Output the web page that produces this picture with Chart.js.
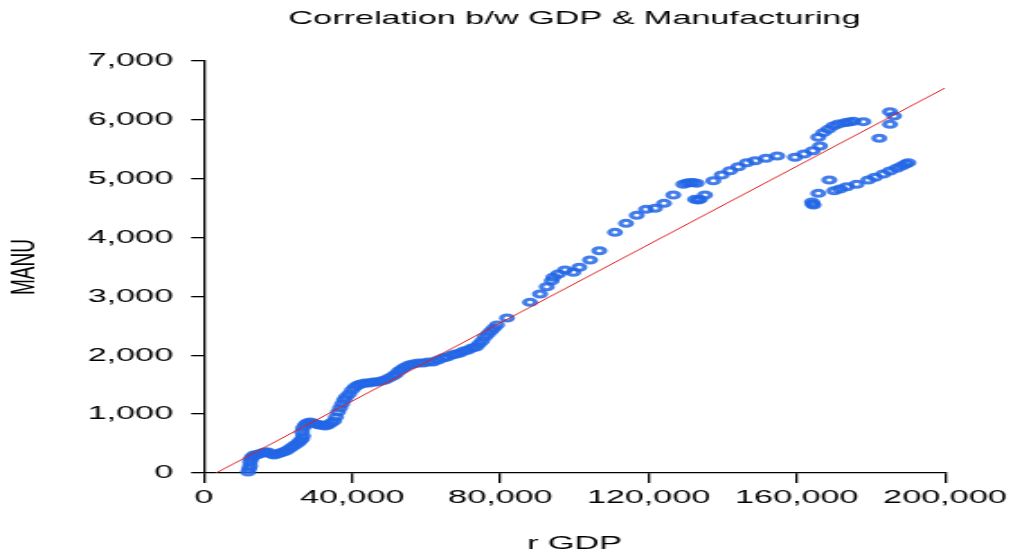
<!DOCTYPE html>
<html>
<head>
<meta charset="utf-8">
<script src="https://cdn.jsdelivr.net/npm/chart.js@4"></script>
<style>
  html, body { margin: 0; padding: 0; background: #fff; overflow: hidden; }
  /* the graph is laid out narrow and widened horizontally, like the exported EViews frame */
  #wrap { width: 563px; height: 556px; transform: scaleX(1.7993); transform-origin: 0 0; }
  canvas { display: block; }
</style>
</head>
<body>
<div id="wrap"><canvas id="chart" width="563" height="556"></canvas></div>
<script>
// real GDP (x) and manufacturing output (y), one entry per observation
const gdp = [
  11880, 12150, 12420, 12420, 12690, 12960, 13500, 14040, 14850, 15650,
  16460, 17270, 18080, 18890, 19700, 20510, 21320, 22130, 22940, 23750,
  24560, 25370, 25910, 26450, 26720, 26450, 26720, 27260, 27800, 28610,
  29420, 30230, 31040, 31850, 32660, 33470, 34280, 35090, 35630, 36170,
  36710, 37250, 37790, 38330, 39140, 39950, 40760, 41570, 42370, 43450,
  44530, 45610, 46690, 47770, 48850, 49930, 51010, 51820, 52630, 53440,
  54250, 55330, 56410, 57760, 59110, 60460, 61810, 63160, 64510, 65590,
  66940, 68020, 69090, 70170, 71250, 72330, 73410, 74220, 75030, 75840,
  76650, 77460, 78270, 79080, 81780,
  87990, 90690, 92500, 93840, 94280, 95630, 97430, 99670, 101290, 104180,
  106690, 110930, 113900, 116790, 119300, 121730, 124150, 126660, 129360, 130360,
  131170, 131980, 132980, 132520, 133330, 133870, 135220, 137460, 139730, 141970,
  144210, 146480, 148720, 151680, 154730, 159510, 161940, 164290, 166260, 165800,
  167150, 168500, 169850, 171200, 173010, 174090, 175250, 177950, 182260, 185150,
  185150, 186230,
  164100, 164290, 164500, 165800, 168770, 170120, 171660, 173470, 176160, 179300,
  181100, 183340, 185150, 186960, 188310, 189390, 190090
];
const manu = [
  17, 68, 119, 187, 238, 272, 306, 306, 323, 340,
  357, 357, 323, 306, 323, 340, 357, 374, 408, 442,
  476, 510, 544, 578, 629, 697, 765, 816, 850, 866,
  850, 833, 816, 816, 799, 816, 850, 883, 951, 1036,
  1104, 1172, 1240, 1291, 1342, 1410, 1461, 1495, 1512, 1529,
  1529, 1546, 1546, 1563, 1580, 1614, 1648, 1682, 1733, 1767,
  1801, 1835, 1852, 1869, 1869, 1886, 1886, 1920, 1954, 1971,
  2005, 2022, 2039, 2073, 2090, 2124, 2141, 2192, 2243, 2311,
  2362, 2413, 2464, 2515, 2633,
  2900, 3041, 3165, 3267, 3325, 3381, 3449, 3410, 3495, 3619,
  3777, 4089, 4242, 4378, 4480, 4497, 4582, 4723, 4905, 4927,
  4932, 4936, 4922, 4650, 4638, 4650, 4723, 4966, 5063, 5136,
  5204, 5272, 5306, 5347, 5386, 5364, 5420, 5476, 5556, 5704,
  5782, 5839, 5896, 5930, 5952, 5964, 5975, 5969, 5687, 5924,
  6138, 6065,
  4604, 4570, 4553, 4752, 4978, 4796, 4825, 4864, 4905, 4978,
  5024, 5080, 5131, 5177, 5216, 5250, 5272
];

// end points of the fitted regression line
const fitGdp = [3240, 200000];
const fitManu = [0, 6541];

// axis ticks
const xTickValues = [0, 40000, 80000, 120000, 160000, 200000];
const xTickLabels = ['0', '40,000', '80,000', '120,000', '160,000', '200,000'];
const yTickValues = [0, 1000, 2000, 3000, 4000, 5000, 6000, 7000];
const yTickLabels = ['0', '1,000', '2,000', '3,000', '4,000', '5,000', '6,000', '7,000'];

const FONT = "'Liberation Sans', Arial, Helvetica, sans-serif";
const font = { family: FONT, size: 19, weight: 'normal' };

const points = gdp.map((x, i) => ({ x: x, y: manu[i] }));
const fitLine = fitGdp.map((x, i) => ({ x: x, y: fitManu[i] }));

new Chart(document.getElementById('chart'), {
  type: 'scatter',
  data: {
    datasets: [
      {
        type: 'line',
        data: fitLine,
        borderColor: '#e11f1f',
        borderWidth: 1,
        pointRadius: 0,
        fill: false,
        order: 0
      },
      {
        data: points,
        pointRadius: 3,
        pointBorderWidth: 3,
        pointBorderColor: 'rgba(34,102,230,0.85)',
        pointBackgroundColor: 'rgba(0,0,0,0)',
        clip: false,
        order: 1
      }
    ]
  },
  options: {
    responsive: false,
    animation: false,
    devicePixelRatio: 1,
    events: [],
    layout: { padding: { left: 0, right: 37.8, top: 0, bottom: 0 } },
    plugins: {
      legend: { display: false },
      tooltip: { enabled: false },
      title: {
        display: true,
        text: 'Correlation b/w GDP & Manufacturing',
        fullSize: false,
        color: '#000',
        font: font,
        padding: { top: 7.6, bottom: 30.6 }
      }
    },
    scales: {
      x: {
        type: 'linear',
        min: 0,
        max: 200000,
        afterBuildTicks: s => { s.ticks = xTickValues.map(v => ({ value: v })); },
        afterFit: s => { s.height = 83; },
        ticks: {
          callback: (v, i) => xTickLabels[i],
          color: '#000',
          font: font,
          padding: 3,
          maxRotation: 0,
          autoSkip: false
        },
        grid: { drawOnChartArea: false, drawTicks: true, tickLength: 10, color: '#000', lineWidth: 1.3 },
        border: { display: true, color: '#000', width: 1.3 },
        title: { display: true, text: 'r GDP', color: '#000', font: font, padding: { top: 0, bottom: 1 } }
      },
      y: {
        type: 'linear',
        min: 0,
        max: 7000,
        afterBuildTicks: s => { s.ticks = yTickValues.map(v => ({ value: v })); },
        afterFit: s => { s.width = 113.4; },
        ticks: {
          callback: (v, i) => yTickLabels[i],
          color: '#000',
          font: font,
          padding: 10,
          autoSkip: false
        },
        grid: { drawOnChartArea: false, drawTicks: true, tickLength: 7.2, color: '#000', lineWidth: 1.3 },
        border: { display: true, color: '#000', width: 1.3 },
        title: { display: true, text: 'MANU', color: '#000', font: font, padding: { top: 2.5, bottom: 0 } }
      }
    }
  }
});
</script>
</body>
</html>
